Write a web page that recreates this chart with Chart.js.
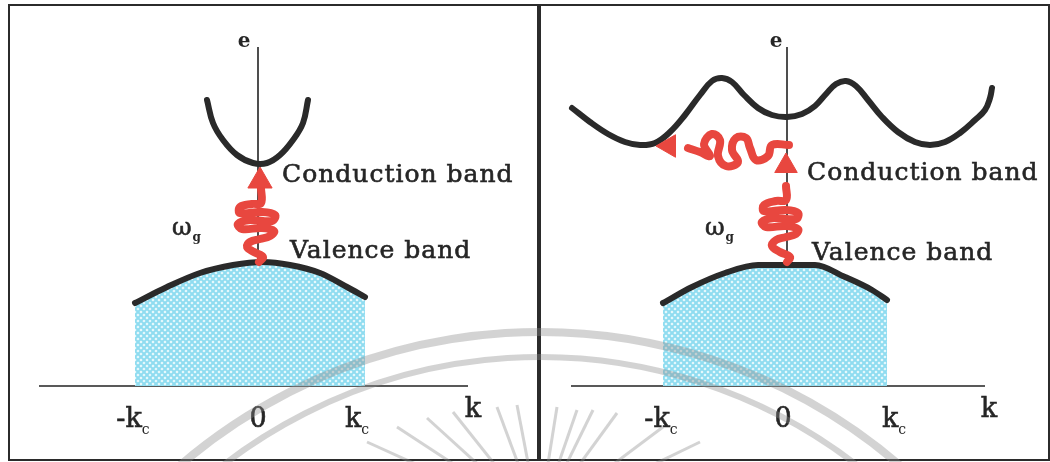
<!DOCTYPE html>
<html>
<head>
<meta charset="utf-8">
<script src="https://cdn.jsdelivr.net/npm/chart.js@4.4.1/dist/chart.umd.min.js"></script>
<style>
  body { margin: 0; background: #fff; }
  #wrap { position: relative; width: 1050px; height: 462px; overflow: hidden; }
  .frame { position: absolute; border: 2px solid #2b2b2b; }
  .divider { position: absolute; background: #2b2b2b; }
  canvas { position: absolute; top: 0; }
</style>
</head>
<body>
<div id="wrap">
  <div class="frame" style="left:8px;top:4px;width:1038px;height:453px"></div>
  <div class="divider" style="left:537px;top:4px;width:4px;height:457px"></div>
  <canvas id="leftPanel" width="525" height="462" style="left:0"></canvas>
  <canvas id="rightPanel" width="525" height="462" style="left:525px"></canvas>
  <canvas id="mark" width="1050" height="462" style="left:0"></canvas>
</div>
<script>
// tick labels on the k axis
var tickText = ['-k', '0', 'k'];
var tickSub = ['c', '', 'c'];
var leftTickK = [-1.25, 0, 0.99];
var rightTickK = [-1.26, -0.04, 1.07];

// band curves, [k, e]
var leftConduction = [[-0.51, 2.86], [-0.45, 2.63], [-0.35, 2.46], [-0.21, 2.31], [-0.05, 2.23],
  [0.09, 2.23], [0.22, 2.31], [0.35, 2.46], [0.45, 2.63], [0.50, 2.86]];
var leftValence = [[-1.23, 0.83], [-0.91, 0.99], [-0.58, 1.13], [-0.25, 1.21], [0.05, 1.24],
  [0.32, 1.21], [0.62, 1.13], [0.89, 0.99], [1.07, 0.89]];

var rightConduction = [[-2.15, 2.78], [-1.97, 2.64], [-1.79, 2.52], [-1.62, 2.44], [-1.47, 2.41],
  [-1.32, 2.43], [-1.17, 2.54], [-1.02, 2.71], [-0.87, 2.91], [-0.75, 3.05], [-0.65, 3.08],
  [-0.55, 3.04], [-0.43, 2.91], [-0.29, 2.78], [-0.15, 2.71], [0, 2.69], [0.15, 2.72],
  [0.28, 2.80], [0.39, 2.92], [0.49, 3.02], [0.59, 3.05], [0.69, 3.00], [0.81, 2.86],
  [0.95, 2.69], [1.11, 2.54], [1.28, 2.44], [1.43, 2.41], [1.58, 2.44], [1.73, 2.53],
  [1.88, 2.66], [1.98, 2.76], [2.03, 2.88], [2.05, 2.98]];
var rightValence = [[-1.24, 0.83], [-0.95, 0.99], [-0.62, 1.13], [-0.29, 1.21], [0.28, 1.21],
  [0.58, 1.09], [0.85, 0.96], [1.00, 0.86]];

// photon (omega_g) paths
var leftPhoton = [[0.01, 1.24], [0.05, 1.29], [-0.04, 1.34], [-0.11, 1.39], [-0.08, 1.44],
  [0.02, 1.47], [0.12, 1.50], [0.16, 1.55], [0.04, 1.58], [-0.16, 1.57], [-0.20, 1.62],
  [-0.08, 1.66], [0.14, 1.65], [0.17, 1.71], [0.04, 1.74], [-0.18, 1.73], [-0.18, 1.79],
  [-0.06, 1.82], [0.03, 1.83], [0.03, 1.98]];
var rightPhoton = [[0, 1.24], [0.03, 1.29], [-0.07, 1.34], [-0.15, 1.40], [-0.11, 1.46],
  [-0.01, 1.49], [0.09, 1.52], [0.11, 1.57], [-0.01, 1.60], [-0.21, 1.59], [-0.25, 1.64],
  [-0.13, 1.68], [0.09, 1.67], [0.11, 1.73], [-0.01, 1.76], [-0.23, 1.75], [-0.23, 1.81],
  [-0.11, 1.85], [-0.01, 1.86], [-0.01, 2.00]];
// phonon path (right panel only)
var rightPhonon = [[0.02, 2.41], [-0.15, 2.41], [-0.19, 2.30], [-0.31, 2.26], [-0.37, 2.38],
  [-0.41, 2.48], [-0.51, 2.48], [-0.55, 2.36], [-0.49, 2.24], [-0.61, 2.20], [-0.69, 2.30],
  [-0.67, 2.46], [-0.75, 2.52], [-0.83, 2.42], [-0.77, 2.30], [-0.87, 2.34], [-0.99, 2.38]];

var leftArrows = [[0.02, 2.05]];
var leftArrowRot = [0];
var rightArrows = [[-0.01, 2.20], [-1.18, 2.40]];
var rightArrowRot = [0, 270];

function pts(a) { return a.map(function(p) { return {x: p[0], y: p[1]}; }); }

function hatchPattern() {
  var c = document.createElement('canvas');
  c.width = 6; c.height = 6;
  var g = c.getContext('2d');
  g.fillStyle = '#eefbfd';
  g.fillRect(0, 0, 6, 6);
  g.strokeStyle = '#8fdcf0';
  g.lineWidth = 2;
  g.beginPath();
  g.moveTo(-1, -1); g.lineTo(7, 7);
  g.moveTo(7, -1); g.lineTo(-1, 7);
  g.stroke();
  return g.createPattern(c, 'repeat');
}

function setFont(ctx, size) { ctx.font = size + 'px "DejaVu Serif"'; }

function heavyText(ctx, s, x, y) {
  ctx.fillText(s, x, y);
  ctx.strokeText(s, x, y);
}

function drawWithSub(ctx, main, sub, x, y, size, subSize) {
  setFont(ctx, size);
  var w1 = ctx.measureText(main).width;
  setFont(ctx, subSize);
  var w2 = sub ? ctx.measureText(sub).width : 0;
  var start = x - (w1 + w2) / 2;
  setFont(ctx, size);
  heavyText(ctx, main, start, y);
  if (sub) {
    setFont(ctx, subSize);
    ctx.fillText(sub, start + w1, y + 7);
  }
}

function makePanel(id, p) {
  var textPlugin = {
    id: 'bandText',
    afterDatasetsDraw: function(chart) {
      var ctx = chart.ctx, x = chart.scales.x, y = chart.scales.y;
      ctx.save();
      ctx.fillStyle = '#262626';
      ctx.strokeStyle = '#262626';
      ctx.lineWidth = 0.6;
      ctx.textBaseline = 'alphabetic';
      ctx.textAlign = 'left';
      for (var i = 0; i < tickText.length; i++) {
        drawWithSub(ctx, tickText[i], tickSub[i], x.getPixelForValue(p.ticks[i]), y.getPixelForValue(-0.41), 27, 14);
      }
      drawWithSub(ctx, 'k', '', x.getPixelForValue(p.kLabel), y.getPixelForValue(-0.31), 27, 14);
      ctx.font = 'bold 20px "DejaVu Serif"';
      ctx.textAlign = 'center';
      ctx.fillText('e', x.getPixelForValue(p.eLabel), y.getPixelForValue(3.39));
      ctx.textAlign = 'left';
      ctx.letterSpacing = '1px';
      setFont(ctx, 25);
      heavyText(ctx, 'Conduction band', x.getPixelForValue(p.cond[0]), y.getPixelForValue(p.cond[1]));
      heavyText(ctx, 'Valence band', x.getPixelForValue(p.val[0]), y.getPixelForValue(p.val[1]));
      ctx.letterSpacing = '0px';
      setFont(ctx, 24);
      var ox = x.getPixelForValue(p.omega[0]), oy = y.getPixelForValue(p.omega[1]);
      heavyText(ctx, '\u03c9', ox, oy);
      var ow = ctx.measureText('\u03c9').width;
      ctx.font = 'bold 12px "DejaVu Serif"';
      ctx.fillText('g', ox + ow + 1, oy + 6);
      ctx.restore();
    }
  };

  var datasets = [
    {data: pts(p.arrows), showLine: false, pointStyle: 'triangle', pointRadius: p.arrowSize,
     pointRotation: p.arrowRot, backgroundColor: '#e8473f', borderColor: '#e8473f', pointBorderWidth: 1}
  ];
  p.photons.forEach(function(ph) {
    datasets.push({data: pts(ph), showLine: true, borderColor: '#e8473f', borderWidth: 8,
      tension: 0.4, pointRadius: 0, borderCapStyle: 'round', borderJoinStyle: 'round'});
  });
  datasets.push(
    {data: pts(p.conduction), showLine: true, borderColor: '#2a2a2a', borderWidth: 6,
     tension: 0.4, pointRadius: 0, borderCapStyle: 'round', borderJoinStyle: 'round'},
    {data: pts(p.valence), showLine: true, borderColor: '#2a2a2a', borderWidth: 6,
     cubicInterpolationMode: 'monotone', pointRadius: 0, borderCapStyle: 'round',
     fill: 'origin', backgroundColor: hatchPattern()},
    {data: [{x: 0, y: 0}, {x: 0, y: 3.39}], showLine: true, borderColor: '#222', borderWidth: 1.6, pointRadius: 0},
    {data: [{x: p.kAxis[0], y: 0}, {x: p.kAxis[1], y: 0}], showLine: true, borderColor: '#222', borderWidth: 1.6, pointRadius: 0}
  );

  return new Chart(document.getElementById(id), {
    type: 'scatter',
    data: {datasets: datasets},
    options: {
      responsive: false,
      animation: false,
      layout: {padding: 0, autoPadding: false},
      scales: {
        x: {type: 'linear', min: p.xMin, max: p.xMax, display: false},
        y: {type: 'linear', min: -0.76, max: 3.86, display: false}
      },
      plugins: {legend: {display: false}, tooltip: {enabled: false}}
    },
    plugins: [textPlugin]
  });
}

makePanel('leftPanel', {
  xMin: -2.58, xMax: 2.67, kAxis: [-2.19, 2.10], ticks: leftTickK, kLabel: 2.15, eLabel: -0.14,
  conduction: leftConduction, valence: leftValence, photons: [leftPhoton],
  arrows: leftArrows, arrowRot: leftArrowRot, arrowSize: 14,
  cond: [0.24, 2.04], val: [0.32, 1.28], omega: [-0.86, 1.51]
});
makePanel('rightPanel', {
  xMin: -2.62, xMax: 2.63, kAxis: [-2.16, 1.98], ticks: rightTickK, kLabel: 2.02, eLabel: -0.11,
  conduction: rightConduction, valence: rightValence, photons: [rightPhoton, rightPhonon],
  arrows: rightArrows, arrowRot: rightArrowRot, arrowSize: 13,
  cond: [0.20, 2.06], val: [0.25, 1.26], omega: [-0.82, 1.51]
});

// faint watermark of the source scan (arcs and rays), not part of the data
(function() {
  var m = document.getElementById('mark').getContext('2d');
  m.strokeStyle = 'rgba(140,140,140,0.38)';
  m.lineWidth = 8;
  m.beginPath(); m.arc(540, 884, 552, Math.PI * 1.1, Math.PI * 1.9); m.stroke();
  m.lineWidth = 6;
  m.beginPath(); m.arc(540, 875, 518, Math.PI * 1.1, Math.PI * 1.9); m.stroke();
  m.lineWidth = 3;
  var rayX = [367, 397, 427, 453, 497, 517, 557, 577, 593, 617, 663, 700];
  var rayY = [442, 427, 418, 412, 407, 405, 407, 410, 410, 413, 427, 442];
  rayX.forEach(function(x0, i) {
    var y0 = rayY[i], dx = 539 - x0, dy = 520 - y0;
    var t = (464 - y0) / dy;
    m.beginPath();
    m.moveTo(x0, y0);
    m.lineTo(x0 + dx * t, 464);
    m.stroke();
  });
})();
</script>
</body>
</html>
